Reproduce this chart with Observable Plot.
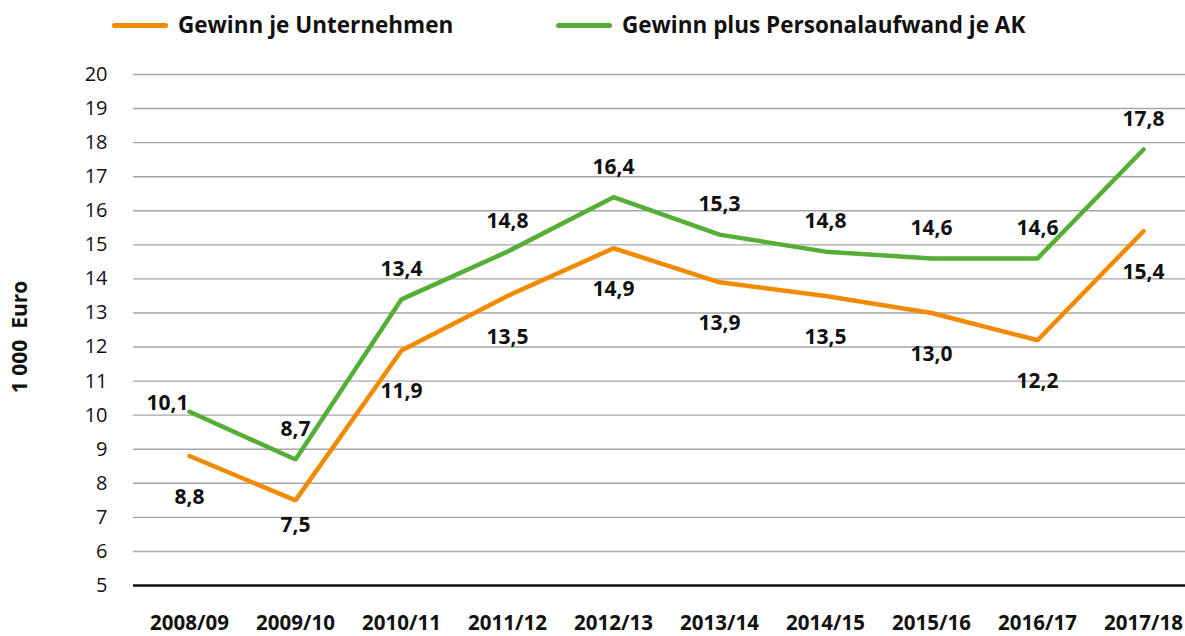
<!DOCTYPE html>
<html>
<head>
<meta charset="utf-8">
<script src="https://cdn.jsdelivr.net/npm/d3@7"></script>
<script src="https://cdn.jsdelivr.net/npm/@observablehq/plot@0.6"></script>
<style>
  html, body { margin: 0; padding: 0; background: #fff; }
  body { width: 1185px; height: 636px; overflow: hidden; font-family: "Open Sans", sans-serif; }
  #legend { position: relative; height: 50px; width: 1185px; }
  .sw { position: absolute; top: 23px; height: 5px; width: 56px; border-radius: 3px; }
  .lt { position: absolute; top: 10px; font-size: 22.5px; font-weight: 700; color: #111; line-height: 30px; white-space: nowrap; }
  #chart svg { display: block; }
</style>
</head>
<body>
<div id="legend"></div>
<div id="chart"></div>
<script>
const years = ["2008/09","2009/10","2010/11","2011/12","2012/13","2013/14","2014/15","2015/16","2016/17","2017/18"];
const gewinnJeUnternehmen = [8.8, 7.5, 11.9, 13.5, 14.9, 13.9, 13.5, 13.0, 12.2, 15.4];
const gewinnPlusPersonal = [10.1, 8.7, 13.4, 14.8, 16.4, 15.3, 14.8, 14.6, 14.6, 17.8];
const seriesNames = ["Gewinn je Unternehmen", "Gewinn plus Personalaufwand je AK"];
const seriesColors = ["#f28a00", "#55ae35"];
const yTicks = [5,6,7,8,9,10,11,12,13,14,15,16,17,18,19,20];
const yLabel = "1 000\u00a0\u00a0Euro";

// legend
const legend = document.getElementById("legend");
const legendPos = [{sw: 112, tx: 178}, {sw: 556, tx: 622}];
seriesNames.forEach((name, i) => {
  const s = document.createElement("div");
  s.className = "sw"; s.style.left = legendPos[i].sw + "px"; s.style.background = seriesColors[i];
  legend.appendChild(s);
  const t = document.createElement("div");
  t.className = "lt"; t.style.left = legendPos[i].tx + "px"; t.textContent = name;
  legend.appendChild(t);
});

const fmt = v => v.toFixed(1).replace(".", ",");
const orange = years.map((y, i) => ({year: y, value: gewinnJeUnternehmen[i], i}));
const green = years.map((y, i) => ({year: y, value: gewinnPlusPersonal[i], i}));
const lab = { fontSize: 21, fontWeight: "bold", fill: "#111" };

const chart = Plot.plot({
  width: 1185,
  height: 586,
  marginTop: 24,
  marginBottom: 51,
  marginLeft: 133,
  marginRight: 0,
  style: { fontFamily: "Open Sans, sans-serif", color: "#111", background: "#fff" },
  x: { type: "point", domain: years, range: [186, 1146], padding: 0 },
  y: { domain: [5, 20], ticks: yTicks },
  marks: [
    Plot.ruleY(yTicks.filter(t => t > 5), { stroke: "#a6a6a6", strokeWidth: 1.4 }),
    Plot.ruleY([5], { stroke: "#111", strokeWidth: 2.5 }),
    Plot.axisY({ ticks: yTicks, tickSize: 0, tickPadding: 26, fontSize: 20, label: null, tickFormat: d => d }),
    Plot.axisX({ tickSize: 0, tickPadding: 30, fontSize: 20.5, fontWeight: "bold", label: null }),
    Plot.text([yLabel], { frameAnchor: "left", textAnchor: "middle", dx: -113, dy: 7, rotate: -90, fontSize: 21, fontWeight: "bold", fill: "#111" }),
    Plot.line(orange, { x: "year", y: "value", stroke: seriesColors[0], strokeWidth: 4.5, strokeLinecap: "round", strokeLinejoin: "miter" }),
    Plot.line(green, { x: "year", y: "value", stroke: seriesColors[1], strokeWidth: 4.5, strokeLinecap: "round", strokeLinejoin: "miter" }),
    Plot.text(orange.filter(d => d.i !== 1), { x: "year", y: "value", text: d => fmt(d.value), dy: 41, ...lab }),
    Plot.text(orange.filter(d => d.i === 1), { x: "year", y: "value", text: d => fmt(d.value), dy: 25, ...lab }),
    Plot.text(green.filter(d => d.i !== 0), { x: "year", y: "value", text: d => fmt(d.value), dy: -30, ...lab }),
    Plot.text(green.filter(d => d.i === 0), { x: "year", y: "value", text: d => fmt(d.value), dx: -22, dy: -8, ...lab })
  ]
});
document.getElementById("chart").appendChild(chart);
</script>
</body>
</html>
